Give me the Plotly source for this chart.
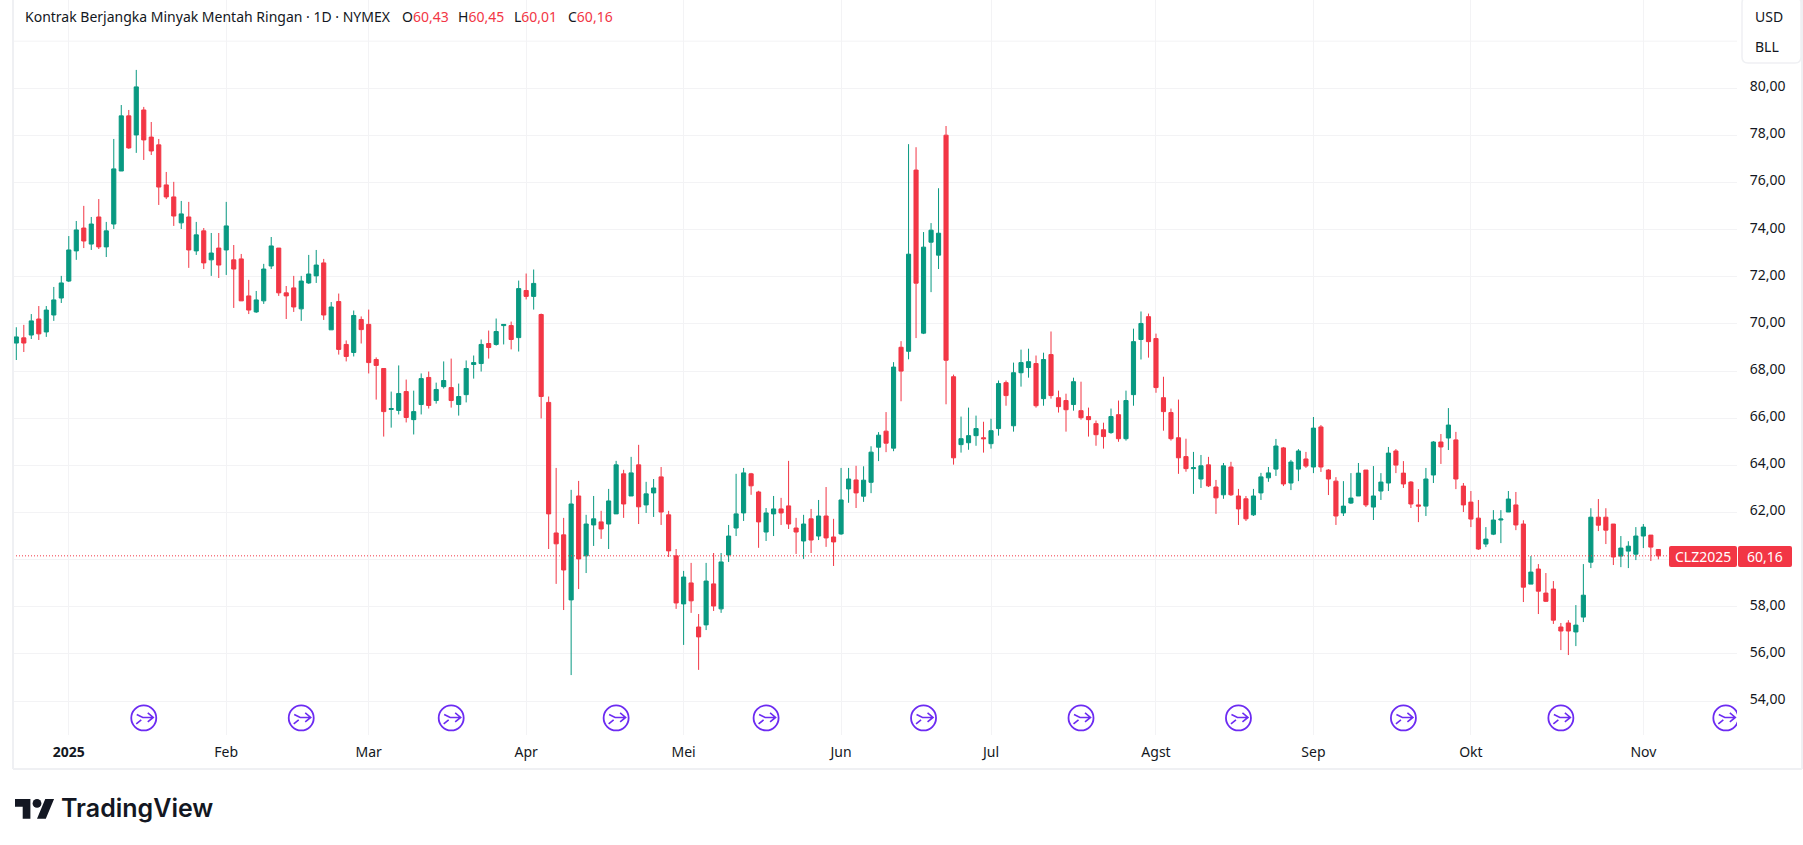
import plotly.graph_objects as go

W = 1803
H = 845
FONT = "Noto Sans"
UP = "#089981"
DOWN = "#F23645"
GRID = "#f3f3f5"
BORDER = "#eff0f3"
TEXT = "#131722"

# daily candles
opens = [69.19, 69.41, 69.53, 70.21, 69.66, 70.38, 71.10, 71.82, 73.10, 74.07,
         73.39, 74.54, 73.27, 74.24, 76.49, 78.83, 78.02, 79.08, 77.93, 77.60,
         75.90, 75.39, 74.29, 74.54, 73.10, 73.95, 72.72, 73.22, 73.14, 72.72,
         72.76, 71.19, 70.51, 70.98, 72.46, 73.22, 71.32, 71.53, 70.64, 71.74,
         72.04, 72.59, 69.75, 70.95, 69.13, 68.79, 70.19, 69.98, 68.49, 68.11,
         66.37, 66.33, 67.13, 65.94, 66.58, 67.73, 66.75, 67.34, 67.30, 66.58,
         67.00, 68.28, 68.32, 69.17, 69.13, 69.93, 69.93, 69.42, 71.42, 71.17,
         70.40, 66.67, 61.13, 61.05, 58.29, 62.70, 60.16, 61.47, 61.60, 61.51,
         61.94, 63.64, 62.70, 64.02, 62.32, 62.83, 63.51, 61.90, 60.16, 58.12,
         59.01, 57.14, 57.23, 58.97, 57.91, 60.20, 61.34, 61.98, 63.64, 62.87,
         61.17, 61.94, 62.15, 62.28, 61.34, 60.79, 61.73, 61.00, 61.85, 60.96,
         61.09, 63.00, 63.38, 62.69, 63.28, 64.77, 65.45, 64.73, 69.01, 68.84,
         76.53, 69.61, 73.47, 72.92, 78.01, 67.76, 64.88, 64.96, 65.26, 65.17,
         64.92, 65.56, 67.51, 65.68, 67.93, 68.15, 68.32, 66.83, 68.70, 66.87,
         66.75, 66.58, 66.32, 66.07, 65.77, 65.51, 65.39, 66.15, 65.13, 67.00,
         69.34, 70.31, 69.38, 66.87, 66.24, 65.17, 64.37, 63.86, 63.42, 64.02,
         63.08, 62.75, 63.93, 62.70, 62.58, 61.90, 62.83, 63.47, 63.84, 64.74,
         63.25, 63.84, 64.27, 63.93, 65.63, 63.80, 63.33, 61.98, 62.40, 62.70,
         63.80, 62.23, 62.91, 63.25, 64.61, 63.67, 63.29, 62.32, 62.27, 63.59,
         64.99, 65.16, 65.08, 63.12, 62.44, 61.76, 60.66, 61.08, 61.68, 62.02,
         62.32, 61.51, 58.96, 59.60, 58.58, 58.75, 57.14, 57.31, 56.93, 57.56,
         59.89, 61.80, 61.80, 61.51, 60.15, 60.36, 60.23, 61.00, 61.04, 60.43]
highs = [69.86, 69.96, 70.42, 70.76, 70.76, 71.57, 72.04, 73.73, 74.37, 75.01,
         74.54, 75.30, 74.33, 77.85, 79.29, 79.08, 80.78, 79.21, 78.57, 77.85,
         76.45, 76.03, 75.22, 75.18, 74.33, 74.07, 73.86, 73.86, 75.18, 73.35,
         72.97, 71.87, 71.40, 72.55, 73.69, 73.22, 71.61, 72.04, 72.04, 72.93,
         73.14, 72.76, 70.93, 71.29, 69.30, 70.57, 70.32, 70.61, 68.58, 68.11,
         67.13, 68.24, 67.64, 67.17, 67.90, 67.98, 67.51, 68.41, 68.53, 67.47,
         68.45, 68.66, 69.34, 69.72, 70.23, 69.98, 70.10, 71.84, 72.14, 72.31,
         70.44, 66.92, 63.89, 61.77, 62.96, 63.34, 61.90, 62.70, 62.07, 63.00,
         64.19, 63.81, 64.36, 64.87, 63.30, 63.42, 63.93, 62.07, 60.45, 59.52,
         59.86, 57.69, 59.86, 60.28, 60.28, 61.47, 63.64, 63.89, 63.68, 62.92,
         62.19, 62.70, 62.62, 64.19, 61.77, 61.90, 62.15, 62.53, 63.08, 61.73,
         63.89, 63.89, 63.98, 63.96, 64.81, 65.41, 66.26, 68.38, 69.27, 77.63,
         77.50, 73.90, 74.28, 75.76, 78.40, 67.85, 66.07, 66.45, 66.11, 65.85,
         65.98, 67.60, 67.60, 68.36, 68.91, 68.95, 68.66, 68.78, 69.68, 67.17,
         67.04, 67.72, 67.55, 66.45, 65.90, 65.81, 66.41, 66.75, 67.17, 69.80,
         70.53, 70.44, 69.59, 67.76, 66.41, 66.79, 65.13, 64.57, 64.44, 64.36,
         63.38, 64.10, 64.15, 63.00, 62.70, 63.00, 63.68, 63.93, 65.12, 64.78,
         64.23, 64.69, 64.57, 66.05, 65.71, 63.84, 63.50, 63.33, 63.67, 64.10,
         63.80, 63.97, 63.67, 64.78, 64.69, 64.18, 63.33, 62.99, 63.89, 65.03,
         65.33, 66.43, 65.42, 63.25, 62.91, 62.53, 61.38, 62.10, 62.10, 62.91,
         62.87, 61.67, 60.15, 59.81, 59.43, 59.09, 57.31, 57.43, 58.07, 59.81,
         62.18, 62.57, 62.18, 61.51, 61.00, 60.78, 61.38, 61.51, 61.04, 60.45]
lows = [68.47, 68.81, 69.36, 69.32, 69.45, 70.13, 70.89, 71.78, 72.72, 73.22,
        73.14, 73.18, 72.84, 74.03, 76.49, 77.43, 77.26, 76.96, 77.17, 75.05,
        75.30, 74.16, 74.03, 72.38, 72.93, 72.33, 72.04, 71.95, 72.08, 70.68,
        70.98, 70.42, 70.47, 70.85, 72.33, 71.19, 70.21, 70.51, 70.13, 71.70,
        71.74, 70.17, 69.75, 68.70, 68.41, 68.62, 69.17, 67.90, 66.79, 65.22,
        65.60, 66.16, 65.82, 65.31, 66.16, 66.41, 66.62, 67.26, 66.45, 66.11,
        66.67, 67.68, 67.98, 68.53, 69.08, 69.13, 68.92, 68.83, 71.04, 70.61,
        65.99, 60.45, 58.97, 57.86, 55.10, 58.75, 59.43, 60.58, 60.88, 60.45,
        61.94, 61.77, 62.70, 61.51, 61.98, 61.81, 61.47, 60.11, 57.91, 56.38,
        57.74, 55.32, 57.01, 57.82, 57.74, 59.90, 61.00, 61.64, 62.75, 60.50,
        60.79, 61.00, 61.47, 61.30, 60.24, 60.03, 60.28, 60.83, 60.54, 59.73,
        61.05, 62.41, 62.19, 62.45, 62.82, 64.18, 64.56, 64.60, 66.72, 68.50,
        69.40, 69.57, 71.35, 72.33, 66.59, 64.03, 64.54, 64.66, 64.83, 64.54,
        64.71, 65.26, 66.53, 65.43, 67.34, 67.72, 66.45, 66.53, 66.83, 66.24,
        65.43, 66.32, 65.94, 65.22, 64.83, 64.71, 65.34, 65.00, 65.05, 66.53,
        68.49, 68.57, 67.08, 65.47, 65.05, 63.64, 63.73, 62.79, 63.04, 63.08,
        61.94, 62.58, 62.70, 61.47, 61.64, 61.85, 62.53, 63.30, 63.55, 63.12,
        62.95, 63.33, 63.89, 63.67, 63.72, 62.74, 61.47, 61.85, 62.36, 62.70,
        62.23, 61.68, 62.53, 62.91, 63.67, 63.04, 62.19, 61.59, 61.85, 63.25,
        64.06, 64.65, 62.99, 62.02, 61.38, 60.41, 60.53, 61.04, 60.70, 62.02,
        61.25, 58.20, 58.96, 57.69, 58.20, 57.27, 56.16, 55.95, 56.33, 57.35,
        59.64, 61.21, 60.66, 59.77, 59.68, 59.64, 59.98, 60.49, 59.94, 60.01]
closes = [69.45, 69.19, 70.13, 69.58, 70.59, 71.02, 71.74, 73.14, 73.99, 73.52,
          74.24, 73.27, 73.95, 76.58, 78.83, 77.47, 80.06, 77.81, 77.34, 75.81,
          75.39, 74.58, 74.67, 73.14, 73.78, 72.59, 73.01, 72.50, 74.16, 72.33,
          70.98, 70.59, 71.02, 72.33, 73.31, 71.32, 71.19, 70.72, 71.82, 72.12,
          72.50, 70.38, 70.72, 68.92, 68.62, 70.36, 69.76, 68.36, 68.24, 66.28,
          66.41, 67.05, 66.03, 66.28, 67.68, 66.54, 67.22, 67.60, 66.75, 66.92,
          68.11, 68.36, 69.13, 69.00, 69.68, 69.98, 69.34, 71.50, 71.17, 71.72,
          66.92, 61.94, 60.67, 59.56, 62.36, 60.03, 61.51, 61.73, 61.30, 62.49,
          64.02, 62.36, 63.68, 62.24, 62.79, 63.04, 62.02, 60.37, 58.16, 59.26,
          58.25, 56.72, 59.09, 58.03, 59.90, 61.00, 61.94, 63.68, 63.13, 61.60,
          61.98, 62.15, 61.98, 61.51, 61.17, 61.51, 60.83, 61.85, 60.92, 60.75,
          62.53, 63.42, 62.83, 63.37, 64.56, 65.28, 64.94, 68.17, 68.00, 72.96,
          71.73, 73.26, 73.98, 73.85, 68.46, 64.32, 65.13, 65.26, 65.56, 65.13,
          65.47, 67.47, 66.96, 67.93, 68.36, 68.40, 66.53, 68.49, 66.96, 66.49,
          66.36, 67.55, 66.02, 65.94, 65.30, 65.22, 66.07, 65.13, 66.75, 69.25,
          70.02, 69.25, 67.30, 66.28, 65.13, 64.32, 63.86, 63.90, 63.98, 63.13,
          62.62, 63.98, 62.75, 62.15, 61.73, 62.70, 63.51, 63.68, 64.82, 63.21,
          64.14, 64.61, 63.97, 65.58, 63.93, 63.42, 61.85, 62.27, 62.61, 63.67,
          62.32, 62.70, 63.29, 64.52, 64.01, 63.21, 62.36, 62.27, 63.42, 64.99,
          64.78, 65.71, 63.42, 62.32, 61.72, 60.45, 60.87, 61.68, 61.72, 62.57,
          61.47, 58.83, 59.47, 58.66, 58.23, 57.43, 56.97, 56.97, 57.22, 58.49,
          61.80, 61.46, 61.25, 60.11, 60.49, 60.57, 61.00, 61.38, 60.53, 60.16]

month_bars = [7, 28, 47, 68, 89, 110, 130, 152, 173, 194, 217]
month_labels = ["<b>2025</b>", "Feb", "Mar", "Apr", "Mei", "Jun", "Jul", "Agst", "Sep", "Okt", "Nov"]
price_ticks = [54, 56, 58, 60, 62, 64, 66, 68, 70, 72, 74, 76, 78, 80]
price_hidden = [60]  # sits behind the last price tag
price_grid_extra = [82]
event_bars = [17, 38, 58, 80, 100, 121, 142, 163, 185, 206, 228]

symbol_name = "CLZ2025"
header_text = "Kontrak Berjangka Minyak Mentah Ringan · 1D · NYMEX"
unit_labels = ["USD", "BLL"]


# pixel -> paper, margins are zero so paper is the whole canvas
def fx(px):
    return px / W


def fy(py):
    return 1 - py / H


def comma(v):
    return f"{v:.2f}".replace(".", ",")


def round_rect(x0, y0, x1, y1, r):
    pts = [
        f"M{fx(x0 + r)},{fy(y0)}", f"L{fx(x1 - r)},{fy(y0)}", f"Q{fx(x1)},{fy(y0)} {fx(x1)},{fy(y0 + r)}",
        f"L{fx(x1)},{fy(y1 - r)}", f"Q{fx(x1)},{fy(y1)} {fx(x1 - r)},{fy(y1)}",
        f"L{fx(x0 + r)},{fy(y1)}", f"Q{fx(x0)},{fy(y1)} {fx(x0)},{fy(y1 - r)}",
        f"L{fx(x0)},{fy(y0 + r)}", f"Q{fx(x0)},{fy(y0)} {fx(x0 + r)},{fy(y0)}", "Z",
    ]
    return " ".join(pts)


fig = go.Figure()
fig.add_trace(go.Candlestick(
    x=list(range(len(closes))),
    open=opens, high=highs, low=lows, close=closes,
    increasing=dict(line=dict(color=UP, width=1), fillcolor=UP),
    decreasing=dict(line=dict(color=DOWN, width=1), fillcolor=DOWN),
    whiskerwidth=0,
    showlegend=False,
))

shapes = []
annots = []

# extra gridline above the labelled ticks
for p in price_grid_extra:
    shapes.append(dict(type="line", xref="x domain", yref="y", x0=0, x1=1, y0=p, y1=p,
                       line=dict(color=GRID, width=1), layer="below"))

# last price line
shapes.append(dict(type="line", xref="x domain", yref="y", x0=0, x1=1, y0=closes[-1], y1=closes[-1],
                   line=dict(color=DOWN, width=1, dash="1px,2px")))

# purple event icons along the bottom of the pane
EVENT_Y = 53.28
PURPLE = "#6c2bf2"
for b in event_bars:
    base = dict(xref="x", yref="y", xanchor=b, yanchor=EVENT_Y, xsizemode="pixel", ysizemode="pixel")
    shapes.append(dict(type="circle", x0=-12.5, x1=12.5, y0=-12.5, y1=12.5,
                       line=dict(color=PURPLE, width=1.8), fillcolor="white", **base))
    shapes.append(dict(type="path", path="M-7,3.5 L-1,0.5 L9,0.5 M4,5 L9.5,0.5 L4,-4 M-7.5,-6 L-2.5,-2",
                       line=dict(color=PURPLE, width=1.6), **base))

# frame
shapes.append(dict(type="line", xref="paper", yref="paper", x0=fx(13), x1=fx(13), y0=fy(0), y1=fy(769),
                   line=dict(color=BORDER, width=2)))
shapes.append(dict(type="line", xref="paper", yref="paper", x0=fx(13), x1=fx(1802), y0=fy(769), y1=fy(769),
                   line=dict(color=BORDER, width=2)))
shapes.append(dict(type="line", xref="paper", yref="paper", x0=fx(1802), x1=fx(1802), y0=fy(0), y1=fy(769),
                   line=dict(color=BORDER, width=2)))

# currency / unit box
shapes.append(dict(type="path", xref="paper", yref="paper", path=round_rect(1742, -3, 1801, 63, 6),
                   line=dict(color=BORDER, width=1.5), fillcolor="white"))
for label, py in zip(unit_labels, [16, 47]):
    annots.append(dict(text=label, x=fx(1753), y=fy(py), xanchor="left", yanchor="middle",
                       font=dict(size=14, color=TEXT, family=FONT)))

# price tag on the right axis
shapes.append(dict(type="path", xref="paper", yref="paper", path=round_rect(1669, 546, 1737, 567, 2),
                   line=dict(width=0), fillcolor=DOWN))
shapes.append(dict(type="path", xref="paper", yref="paper", path=round_rect(1738, 546, 1792, 567, 2),
                   line=dict(width=0), fillcolor=DOWN))
annots.append(dict(text=symbol_name, x=fx(1703), y=fy(556.5), xanchor="center", yanchor="middle",
                   font=dict(size=14, color="white", family=FONT)))
annots.append(dict(text=comma(closes[-1]), x=fx(1765), y=fy(556.5), xanchor="center", yanchor="middle",
                   font=dict(size=14, color="white", family=FONT)))

# header line
annots.append(dict(text=header_text, x=fx(23), y=fy(16), xanchor="left", yanchor="middle",
                   font=dict(size=14, color=TEXT, family=FONT)))
ohlc_last = [("O", opens[-1], 400), ("H", highs[-1], 456), ("L", lows[-1], 512), ("C", closes[-1], 566)]
for letter, val, px in ohlc_last:
    annots.append(dict(text=f'{letter}<span style="color:{DOWN}">{comma(val)}</span>',
                       x=fx(px), y=fy(16), xanchor="left", yanchor="middle",
                       font=dict(size=14, color=TEXT, family=FONT)))

# TradingView logo, glyph scaled from its 36x18 box
S = 1.1
LX = 15
LY = 799 - 4 * S


def lp(a, b):
    return f"{fx(LX + a * S)},{fy(LY + b * S)}"


glyph = (f"M{lp(14, 22)} L{lp(7, 22)} L{lp(7, 11)} L{lp(0, 11)} L{lp(0, 4)} L{lp(14, 4)} Z "
         f"M{lp(28, 22)} L{lp(20, 22)} L{lp(27.5, 4)} L{lp(35.5, 4)} Z")
shapes.append(dict(type="path", xref="paper", yref="paper", path=glyph, line=dict(width=0), fillcolor="#131722"))
shapes.append(dict(type="circle", xref="paper", yref="paper", x0=fx(LX + 16 * S), x1=fx(LX + 24 * S),
                   y0=fy(LY + 4 * S), y1=fy(LY + 12 * S), line=dict(width=0), fillcolor="#131722"))
annots.append(dict(text="TradingView", x=fx(59), y=fy(808), xanchor="left", yanchor="middle",
                   font=dict(size=25, color="#131722", family="Inter", weight=600)))

for a in annots:
    a.update(xref="paper", yref="paper", showarrow=False, xshift=0, yshift=0)

fig.update_layout(
    width=W,
    height=H,
    margin=dict(l=0, r=0, t=0, b=0),
    paper_bgcolor="white",
    plot_bgcolor="white",
    separators=",.",
    boxgap=0.45,
    boxgroupgap=0,
    shapes=shapes,
    annotations=annots,
    font=dict(family=FONT, size=14, color=TEXT),
    xaxis=dict(
        domain=[fx(13), fx(1737)],
        range=[-0.44, 229.49],
        rangeslider=dict(visible=False),
        tickmode="array",
        tickvals=month_bars,
        ticktext=month_labels,
        showgrid=True,
        gridcolor=GRID,
        gridwidth=1,
        zeroline=False,
        showline=False,
        ticks="outside",
        ticklen=4,
        tickcolor="rgba(0,0,0,0)",
        anchor="y",
        tickfont=dict(size=14, color=TEXT, family=FONT),
    ),
    yaxis=dict(
        domain=[fy(735), 1],
        range=[52.557, 83.747],
        side="right",
        tickmode="array",
        tickvals=price_ticks,
        ticktext=["" if p in price_hidden else comma(p) for p in price_ticks],
        ticklabelshift=-2,
        showgrid=True,
        gridcolor=GRID,
        gridwidth=1,
        zeroline=False,
        showline=False,
        ticks="outside",
        ticklen=9,
        tickcolor="rgba(0,0,0,0)",
        anchor="x",
        tickfont=dict(size=14, color=TEXT, family=FONT),
    ),
)

fig.write_html("out.html", config={"displayModeBar": False},
               post_script="document.body.style.margin='0';")
